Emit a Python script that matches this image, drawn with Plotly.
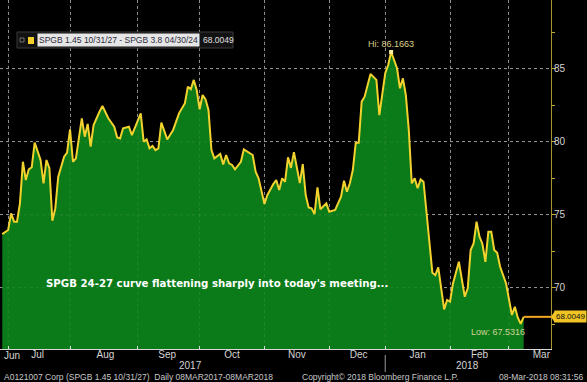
import plotly.graph_objects as go

# ---------------- data ----------------
dates = [
    "2017-06-29", "2017-07-03", "2017-07-04", "2017-07-05", "2017-07-06", "2017-07-07",
    "2017-07-10", "2017-07-11", "2017-07-12", "2017-07-13", "2017-07-14",
    "2017-07-18", "2017-07-19", "2017-07-20", "2017-07-21",
    "2017-07-24", "2017-07-25", "2017-07-26", "2017-07-28",
    "2017-07-31", "2017-08-01", "2017-08-02", "2017-08-03",
    "2017-08-07", "2017-08-08", "2017-08-09", "2017-08-10", "2017-08-11",
    "2017-08-15", "2017-08-16", "2017-08-18",
    "2017-08-22", "2017-08-23", "2017-08-24", "2017-08-25",
    "2017-08-29", "2017-08-30", "2017-08-31",
    "2017-09-04", "2017-09-05", "2017-09-06", "2017-09-07", "2017-09-08",
    "2017-09-11", "2017-09-12", "2017-09-13", "2017-09-15",
    "2017-09-19", "2017-09-21",
    "2017-09-25", "2017-09-26", "2017-09-27", "2017-09-28", "2017-09-29",
    "2017-10-02", "2017-10-03", "2017-10-04", "2017-10-05", "2017-10-06",
    "2017-10-09", "2017-10-11", "2017-10-12", "2017-10-13",
    "2017-10-16", "2017-10-17", "2017-10-18", "2017-10-20",
    "2017-10-23", "2017-10-26", "2017-10-27",
    "2017-10-30", "2017-11-01", "2017-11-02",
    "2017-11-06", "2017-11-07", "2017-11-08", "2017-11-09", "2017-11-10",
    "2017-11-13", "2017-11-14", "2017-11-15", "2017-11-17",
    "2017-11-20", "2017-11-21", "2017-11-22", "2017-11-23", "2017-11-24",
    "2017-11-27", "2017-11-28", "2017-11-30", "2017-12-01",
    "2017-12-05", "2017-12-07", "2017-12-08",
    "2017-12-11", "2017-12-12", "2017-12-13", "2017-12-14", "2017-12-15",
    "2017-12-18", "2017-12-19", "2017-12-21",
    "2017-12-27", "2017-12-28",
    "2018-01-02", "2018-01-03", "2018-01-04",
    "2018-01-08", "2018-01-09", "2018-01-10", "2018-01-11", "2018-01-12",
    "2018-01-15", "2018-01-16", "2018-01-17", "2018-01-18", "2018-01-19",
    "2018-01-24", "2018-01-25", "2018-01-26",
    "2018-01-30", "2018-01-31", "2018-02-01", "2018-02-02",
    "2018-02-06", "2018-02-08", "2018-02-09",
    "2018-02-12", "2018-02-13", "2018-02-14", "2018-02-15", "2018-02-16",
    "2018-02-19", "2018-02-20", "2018-02-21", "2018-02-22", "2018-02-23",
    "2018-02-26", "2018-02-28", "2018-03-02",
    "2018-03-05", "2018-03-06", "2018-03-07", "2018-03-08",
]
values = [
    73.68, 73.96, 75.10, 74.53, 74.53, 75.79,
    78.64, 77.39, 78.12, 78.26, 79.95,
    78.76, 77.16, 78.76, 78.19,
    74.60, 75.44, 77.61, 78.98,
    79.26, 80.86, 78.64, 78.87,
    81.61, 80.36, 81.23, 79.67, 81.16,
    82.07, 82.46, 81.62,
    81.04, 80.31, 80.24, 80.93,
    81.04, 80.47, 80.93,
    81.96, 80.01, 80.17, 79.56, 79.72,
    79.44, 79.56, 81.32, 80.17,
    80.82, 81.96,
    82.65, 83.79, 83.61, 84.25, 83.56,
    82.24, 83.22, 82.92, 82.19, 79.44,
    78.87, 79.17, 78.46, 79.10,
    78.53, 78.42, 78.12, 78.64,
    79.49, 79.10, 77.96,
    77.50, 75.74, 76.36,
    77.11, 77.39, 76.70, 77.50, 77.27,
    78.94, 78.22, 79.30, 77.18,
    78.48, 76.36, 75.51, 75.44, 75.05,
    76.89, 75.38, 75.79, 75.21,
    75.33, 76.24, 77.34,
    76.58, 77.16, 78.07, 79.95, 79.95,
    82.76, 83.10, 84.66,
    84.25, 81.84,
    84.71, 85.27, 86.1663,
    85.05, 83.68, 84.36, 83.20, 80.82,
    77.16, 77.50, 76.82, 77.43, 77.27,
    71.03, 70.87, 71.40,
    68.52, 69.16, 69.04, 70.30,
    71.78, 69.38, 69.96,
    72.59, 73.04, 74.53, 73.50, 73.00,
    71.78, 73.84, 73.84, 72.59, 72.40,
    71.44, 70.30, 68.13,
    68.70, 67.95, 67.5316, 68.0049,
]

month_label_dates = ["2017-07-17", "2017-08-17", "2017-09-15", "2017-10-17", "2017-11-16",
                     "2017-12-15", "2018-01-17", "2018-02-15", "2018-03-16"]
month_labels = ["Jul", "Aug", "Sep", "Oct", "Nov", "Dec", "Jan", "Feb", "Mar"]
month_start_dates = ["2017-07-03", "2017-08-01", "2017-09-01", "2017-10-02", "2017-11-01",
                     "2017-12-01", "2018-01-02", "2018-02-01", "2018-03-01"]
year_label_dates = ["2017-09-27", "2018-02-09"]
year_labels = ["2017", "2018"]
year_split_date = "2018-01-02"
y_ticks = [70, 75, 80, 85]
holidays = ["2017-12-25", "2017-12-26", "2018-01-01"]

hi_date, hi_value = "2018-01-04", 86.1663
low_date, low_value = "2018-03-07", 67.5316
last_date, last_value = "2018-03-08", 68.0049

series_name = "SPGB 1.45 10/31/27 - SPGB 3.8 04/30/24"
note_text = "SPGB 24-27 curve flattening sharply into today's meeting..."
footer_left = "A0121007 Corp (SPGB 1.45 10/31/27)  Daily 08MAR2017-08MAR2018"
footer_mid = "Copyright\u00a9 2018 Bloomberg Finance L.P."
footer_right = "08-Mar-2018 08:31:56"

x_range = ["2017-06-28 05:30", "2018-03-21 06:30"]
y_range = [65.80, 89.73]

# ---------------- styles ----------------
GREEN = "#0b7a18"
YELLOW = "#f2d22e"
ORANGE = "#f5a623"
GRID = "#8a8a8a"
GRID_ON_FILL = "rgba(255,255,255,0.10)"
TXT = "#d4d4d4"
FONT = "Liberation Sans"

fig = go.Figure()
fig.add_trace(go.Scatter(
    x=dates, y=values, mode="lines", fill="tozeroy", fillcolor=GREEN,
    line=dict(color=YELLOW, width=2), hoverinfo="skip"))
fig.add_trace(go.Scatter(
    x=[last_date, x_range[1]], y=[last_value, last_value], mode="lines",
    line=dict(color=ORANGE, width=2), hoverinfo="skip"))
fig.add_trace(go.Scatter(
    x=[hi_date], y=[hi_value], mode="markers",
    marker=dict(color="#fff2a0", size=4, symbol="square"), hoverinfo="skip"))

annotations = []
annotations.append(dict(text="Jun", xref="paper", yref="paper", x=0.003, y=-6 / 349,
                        xanchor="left", yanchor="middle", showarrow=False,
                        font=dict(family=FONT, size=10, color=TXT)))
for d, t in zip(year_label_dates, year_labels):
    annotations.append(dict(text=t, xref="x", yref="paper", x=d, y=-17 / 349,
                            xanchor="center", yanchor="middle", showarrow=False,
                            font=dict(family=FONT, size=10, color=TXT)))
foot_y = -28 / 349
foot_font = dict(family=FONT, size=8.5, color="#c8c8c8")
annotations.append(dict(text=footer_left, xref="paper", yref="paper", x=2 / 551, y=foot_y,
                        xanchor="left", yanchor="middle", showarrow=False, font=foot_font))
annotations.append(dict(text=footer_mid, xref="paper", yref="paper", x=300 / 551, y=foot_y,
                        xanchor="left", yanchor="middle", showarrow=False, font=foot_font))
annotations.append(dict(text=footer_right, xref="paper", yref="paper", x=585 / 551, y=foot_y,
                        xanchor="right", yanchor="middle", showarrow=False, font=foot_font))
annotations.append(dict(text="Hi: " + f"{hi_value:.4f}", xref="x", yref="y", x=hi_date, y=hi_value,
                        yshift=1, xanchor="center", yanchor="bottom", showarrow=False,
                        font=dict(family=FONT, size=9, color="#dccf86")))
annotations.append(dict(text="Low: " + f"{low_value:.4f}", xref="x", yref="y", x=low_date, y=low_value,
                        yshift=-1, xshift=6, xanchor="right", yanchor="top", showarrow=False,
                        font=dict(family=FONT, size=9, color="#cfd39a")))
annotations.append(dict(text=f"{last_value:.4f}", xref="paper", yref="y", x=1.0, y=last_value,
                        xshift=3, xanchor="left", yanchor="middle", showarrow=False,
                        bgcolor="#f0c424", borderpad=1,
                        font=dict(family=FONT, size=8, color="#101010")))
annotations.append(dict(text="<b>" + note_text + "</b>", xref="paper", yref="paper",
                        x=44 / 551, y=1 - 283 / 349, xanchor="left", yanchor="middle",
                        showarrow=False, font=dict(family="DejaVu Sans", size=10.2, color="#ffffff")))
annotations.append(dict(text=series_name, xref="paper", yref="paper",
                        x=37 / 551, y=1 - 40 / 349, xanchor="left", yanchor="middle",
                        showarrow=False, bgcolor="#e6e6e6", borderpad=1,
                        font=dict(family=FONT, size=8.5, color="#2a2a3a")))
annotations.append(dict(text=f"{last_value:.4f}", xref="paper", yref="paper",
                        x=201 / 551, y=1 - 40 / 349, xanchor="left", yanchor="middle",
                        showarrow=False, font=dict(family=FONT, size=8.5, color="#e0e0e0")))

shapes = []
# faint gridlines visible over the green fill
for d in month_start_dates:
    shapes.append(dict(type="line", xref="x", yref="paper", x0=d, x1=d, y0=0, y1=1,
                       line=dict(color=GRID_ON_FILL, width=1, dash="dot"), layer="above"))
for v in y_ticks:
    shapes.append(dict(type="line", xref="paper", yref="y", x0=0, x1=1, y0=v, y1=v,
                       line=dict(color=GRID_ON_FILL, width=1, dash="dot"), layer="above"))
shapes += [
    dict(type="rect", xref="paper", yref="paper", x0=17 / 551, x1=233 / 551,
         y0=1 - 48 / 349, y1=1 - 32 / 349, fillcolor="#121212",
         line=dict(color="#3a3a3a", width=1), layer="above"),
    dict(type="rect", xref="paper", yref="paper", x0=28 / 551, x1=34 / 551,
         y0=1 - 44 / 349, y1=1 - 37 / 349, fillcolor="#f2cf2a",
         line=dict(width=0), layer="above"),
    dict(type="rect", xref="paper", yref="paper", x0=20 / 551, x1=24 / 551,
         y0=1 - 42 / 349, y1=1 - 38 / 349, fillcolor="rgba(0,0,0,0)",
         line=dict(color="#707070", width=1), layer="above"),
    dict(type="line", xref="x", yref="paper", x0=year_split_date, x1=year_split_date,
         y0=-6 / 349, y1=-23 / 349, line=dict(color="#9a9a9a", width=1)),
    dict(type="path", xref="paper", yref="y",
         path=f"M 1.0,{last_value} L {1 + 4 / 551},{last_value + 0.42} L {1 + 4 / 551},{last_value - 0.42} Z",
         fillcolor="#f0c424", line=dict(width=0)),
]

fig.update_layout(
    width=587, height=382,
    margin=dict(l=0, r=36, t=0, b=33, autoexpand=False),
    paper_bgcolor="#000000", plot_bgcolor="#000000",
    showlegend=False,
    annotations=annotations, shapes=shapes,
    xaxis=dict(
        type="date", range=x_range,
        rangebreaks=[dict(bounds=["sat", "mon"]), dict(values=holidays)],
        tickmode="array", tickvals=month_label_dates, ticktext=month_labels,
        ticks="", showgrid=False, zeroline=False, ticklabelstandoff=-4,
        showline=True, linecolor="#d8d8d8", linewidth=1,
        tickfont=dict(family=FONT, size=10, color=TXT),
        minor=dict(tickmode="array", tickvals=month_start_dates, showgrid=True,
                   gridcolor=GRID, griddash="dot", gridwidth=1,
                   ticks="inside", ticklen=3, tickcolor="#d8d8d8"),
    ),
    yaxis=dict(
        side="right", range=y_range, tickmode="array", tickvals=y_ticks,
        ticks="outside", ticklen=4, tickcolor="#c9ab3a", ticklabelstandoff=-4,
        showline=True, linecolor="#a89232", linewidth=1,
        showgrid=True, gridcolor=GRID, griddash="dot", gridwidth=1, zeroline=False,
        tickfont=dict(family=FONT, size=10, color=TXT),
        minor=dict(dtick=2.5, tick0=0, ticks="outside", ticklen=3,
                   tickcolor="#c9ab3a", showgrid=False),
    ),
)

fig.write_html("out.html", post_script="document.body.style.margin='0px';",
               config={"displayModeBar": False})
